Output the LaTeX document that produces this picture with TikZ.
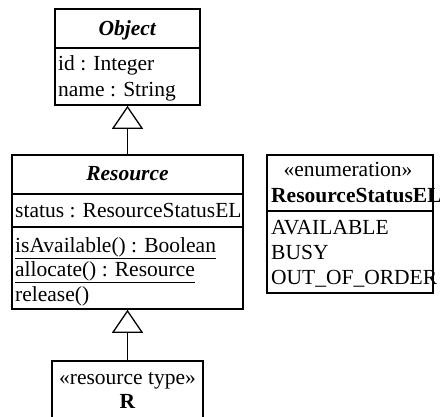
\documentclass[tikz,border=0pt]{standalone}
\usepackage{fontspec}
\setmainfont{Liberation Serif}
\usetikzlibrary{arrows.meta}
\tikzset{
  classbox/.style={draw, line width=1.6pt, inner sep=0pt},
  divider/.style={line width=1.6pt},
  txt/.style={inner sep=0pt, anchor=base west, font=\fontsize{21.5}{25}\selectfont},
  ctxt/.style={inner sep=0pt, anchor=base, font=\fontsize{21.5}{25}\selectfont},
  gen/.style={line width=1.3pt, -{Triangle[open,length=23pt,width=31pt,line width=1.3pt]}}
}
\begin{document}
\begin{tikzpicture}[x=1pt,y=-1pt]
\useasboundingbox (0,0) rectangle (440,416);
\clip (0,0) rectangle (440,416);
% boxes
\node[classbox, minimum width=145pt, minimum height=96pt] (obj) at (127.5,57) {};
\node[classbox, minimum width=231pt, minimum height=154pt] (res) at (127.5,232) {};
\node[classbox, minimum width=166pt, minimum height=138pt] (enum) at (350,224) {};
\node[classbox, minimum width=151pt, minimum height=69pt] (rt) at (127.5,395.5) {};
% dividers
\draw[divider] (55,48) -- (200,48);
\draw[divider] (12,194) -- (243,194);
\draw[divider] (12,227) -- (243,227);
\draw[divider] (267,211) -- (433,211);
% Object
\node[ctxt] (objname) at (127.5,35) {\textbf{\textit{Object}}};
\node[txt] (a1) at (58,70) {id : Integer};
\node[txt] (a2) at (58,96) {name : String};
% Resource
\node[ctxt] (resname) at (127.5,180) {\textbf{\textit{Resource}}};
\node[txt] (r1) at (15,217) {status : ResourceStatusEL};
\node[txt] (m1) at (15,252) {\underline{isAvailable() : Boolean}};
\node[txt] (m2) at (15,276) {\underline{allocate() : Resource}};
\node[txt] (m3) at (15,301) {release()};
% Enumeration
\node[ctxt] (est) at (348,176) {«enumeration»};
\node[txt] (ename) at (271,202) {\textbf{ResourceStatusEL}};
\node[txt] (e1) at (271,234) {AVAILABLE};
\node[txt] (e2) at (271,259) {BUSY};
\node[txt] (e3) at (271,284) {OUT\_OF\_ORDER};
% resource type R
\node[ctxt] (rst) at (127.5,384) {«resource type»};
\node[ctxt] (rname) at (127.5,408) {\textbf{R}};
% generalizations
\draw[gen] (res.north) -- (obj.south);
\draw[gen] (rt.north) -- (res.south);
\end{tikzpicture}
\end{document}
